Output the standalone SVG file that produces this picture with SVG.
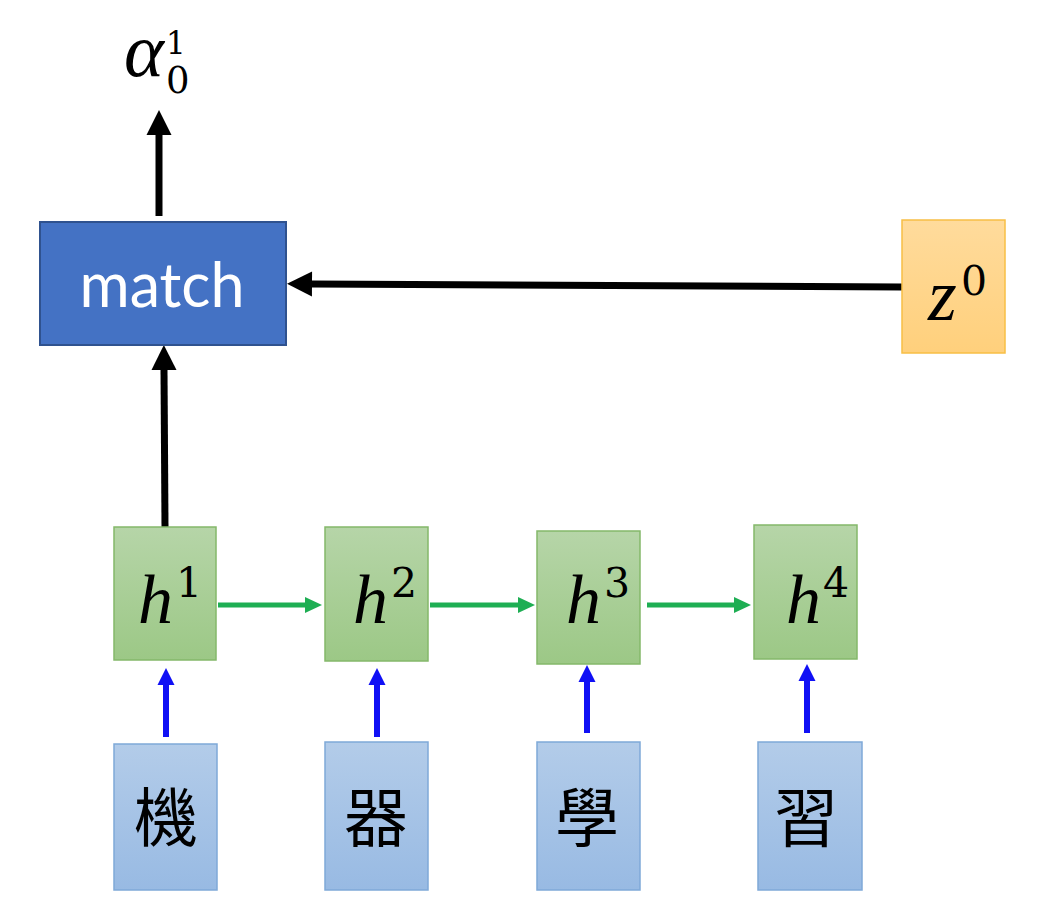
<svg xmlns="http://www.w3.org/2000/svg" width="1046" height="914" viewBox="0 0 1046 914">
<defs>
<linearGradient id="gGreen" x1="0" y1="0" x2="0" y2="1"><stop offset="0" stop-color="#B6D5A8"/><stop offset="1" stop-color="#9CC886"/></linearGradient>
<linearGradient id="gBlue" x1="0" y1="0" x2="0" y2="1"><stop offset="0" stop-color="#B3CCE9"/><stop offset="1" stop-color="#98BAE3"/></linearGradient>
<linearGradient id="gOrange" x1="0" y1="0" x2="0" y2="1"><stop offset="0" stop-color="#FFDB9C"/><stop offset="1" stop-color="#FFD07C"/></linearGradient>
<marker id="mBlack" markerUnits="userSpaceOnUse" markerWidth="26" markerHeight="26" refX="0" refY="12.5" orient="auto" overflow="visible"><path d="M0,0 L25,12.5 L0,25 Z" fill="#000"/></marker>
<marker id="mGreen" markerUnits="userSpaceOnUse" markerWidth="18" markerHeight="18" refX="0" refY="8" orient="auto" overflow="visible"><path d="M0,0 L17,8 L0,16 Z" fill="#1EAE53"/></marker>
<marker id="mBlue" markerUnits="userSpaceOnUse" markerWidth="18" markerHeight="18" refX="0" refY="8.5" orient="auto" overflow="visible"><path d="M0,0 L17,8.5 L0,17 Z" fill="#1010F5"/></marker>
</defs>
<style>
.hbox{fill:url(#gGreen);stroke:#84B86A;stroke-width:1.5}
.ibox{fill:url(#gBlue);stroke:#7FA9D8;stroke-width:1.5}
.math{font-family:"Liberation Serif","DejaVu Serif",serif;font-style:italic;fill:#000}
.num{font-family:"DejaVu Serif","Liberation Serif",serif;font-style:normal;fill:#000}
.cjk{font-family:"Noto Sans CJK TC","Noto Sans CJK SC",sans-serif;font-size:64px;fill:#000;text-anchor:middle}
.blk{stroke:#000;stroke-width:7;fill:none;marker-end:url(#mBlack)}
.grn{stroke:#1EAE53;stroke-width:5;fill:none;marker-end:url(#mGreen)}
.blu{stroke:#1010F5;stroke-width:6;fill:none;marker-end:url(#mBlue)}
</style>
<rect width="1046" height="914" fill="#fff"/>

<g id="connectors">
<line class="blk" x1="159" y1="216" x2="159" y2="135"/>
<line class="blk" x1="165" y1="527" x2="164" y2="370"/>
<line class="blk" x1="902" y1="287" x2="312" y2="284"/>
<line class="grn" x1="218" y1="605" x2="305" y2="605"/>
<line class="grn" x1="430" y1="605" x2="518" y2="605"/>
<line class="grn" x1="647" y1="605" x2="734" y2="605"/>
<line class="blu" x1="166" y1="737" x2="166" y2="685"/>
<line class="blu" x1="377" y1="737" x2="377" y2="685"/>
<line class="blu" x1="587" y1="733" x2="587" y2="682"/>
<line class="blu" x1="807" y1="733" x2="807" y2="681"/>
</g>

<g id="alpha">
<text class="math" x="124" y="76" font-size="76">α</text>
<text class="num" x="166" y="54" font-size="31">1</text>
<text class="num" x="166" y="93" font-size="37">0</text>
</g>

<g id="match">
<rect x="40" y="222" width="246" height="123" fill="#4472C4" stroke="#2F528F" stroke-width="2"/>
<text x="162" y="307" font-family="Lato,'Open Sans',sans-serif" font-size="61" fill="#fff" text-anchor="middle">match</text>
</g>

<g id="z0">
<rect x="902" y="220" width="103" height="133" fill="url(#gOrange)" stroke="#F8BF45" stroke-width="1.5"/>
<text class="math" x="928" y="320" font-size="74">z</text>
<text class="num" x="961" y="295" font-size="41">0</text>
</g>

<g id="h1">
<rect class="hbox" x="114" y="527" width="102" height="133"/>
<text class="math" x="138" y="623" font-size="70">h</text>
<text class="num" x="176" y="597" font-size="41">1</text>
</g>
<g id="h2">
<rect class="hbox" x="325" y="527" width="103" height="134"/>
<text class="math" x="353" y="623" font-size="70">h</text>
<text class="num" x="391" y="597" font-size="41">2</text>
</g>
<g id="h3">
<rect class="hbox" x="537" y="531" width="103" height="133"/>
<text class="math" x="566" y="623" font-size="70">h</text>
<text class="num" x="604" y="597" font-size="41">3</text>
</g>
<g id="h4">
<rect class="hbox" x="754" y="525" width="103" height="134"/>
<text class="math" x="786" y="623" font-size="70">h</text>
<text class="num" x="823" y="597" font-size="41">4</text>
</g>

<g id="in1">
<rect class="ibox" x="114" y="744" width="103" height="146"/>
<text class="cjk" x="166" y="841">機</text>
</g>
<g id="in2">
<rect class="ibox" x="325" y="742" width="103" height="148"/>
<text class="cjk" x="376" y="841">器</text>
</g>
<g id="in3">
<rect class="ibox" x="537" y="742" width="103" height="148"/>
<text class="cjk" x="587" y="841">學</text>
</g>
<g id="in4">
<rect class="ibox" x="758" y="742" width="104" height="148"/>
<text class="cjk" x="806" y="841">習</text>
</g>
</svg>
